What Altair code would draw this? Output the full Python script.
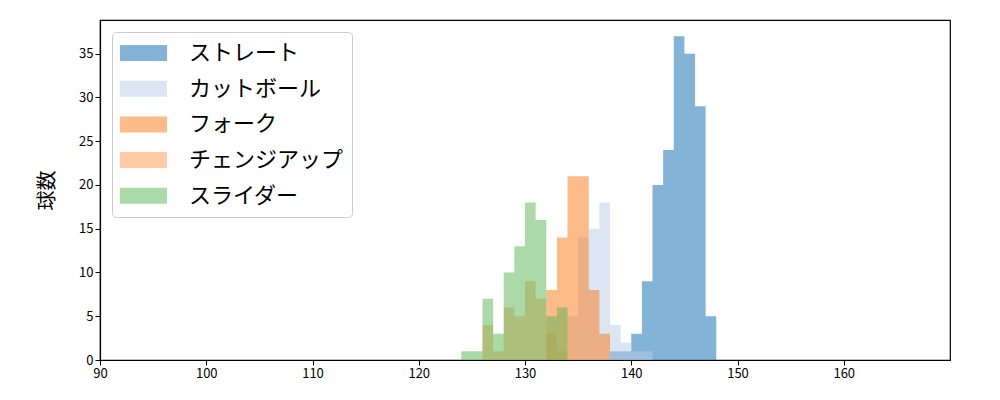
import altair as alt
import pandas as pd

# pitch types, in drawing order
pitch_types = ["ストレート", "カットボール", "フォーク", "チェンジアップ", "スライダー"]
pitch_colors = ["#0767af", "#b9cde5", "#fb7713", "#fd974b", "#59b351"]

# 1 km/h bins: left edges and pitch counts
straight_bins = [138, 139, 140, 141, 142, 143, 144, 145, 146, 147]
straight_counts = [1, 1, 3, 9, 20, 24, 37, 35, 29, 5]
cutball_bins = [134, 135, 136, 137, 138, 139, 140, 141]
cutball_counts = [5, 14, 15, 18, 4, 2, 1, 1]
fork_bins = [132, 133, 134, 135, 136, 137]
fork_counts = [8, 14, 21, 21, 8, 3]
changeup_bins = [126, 127, 128, 129, 130, 131, 132, 133]
changeup_counts = [4, 1, 6, 5, 9, 7, 3, 1]
slider_bins = [124, 125, 126, 127, 128, 129, 130, 131, 132, 133]
slider_counts = [1, 1, 7, 3, 10, 13, 18, 16, 5, 6]

x_ticks = [90, 100, 110, 120, 130, 140, 150, 160]
y_ticks = [0, 5, 10, 15, 20, 25, 30, 35]

series = [
    (straight_bins, straight_counts),
    (cutball_bins, cutball_counts),
    (fork_bins, fork_counts),
    (changeup_bins, changeup_counts),
    (slider_bins, slider_counts),
]

font = "Noto Sans CJK JP"

x_enc = alt.X(
    "speed:Q",
    title=None,
    scale=alt.Scale(domain=[90, 170], nice=False, zero=False),
    axis=alt.Axis(values=x_ticks, grid=False, labelFlush=False),
)
y_enc = alt.Y(
    "count:Q",
    title="球数",
    stack=None,
    scale=alt.Scale(domain=[0, 38.85], nice=False),
    axis=alt.Axis(
        values=y_ticks,
        grid=False,
        labelFlush=False,
        titleFontSize=20,
        titleFontWeight="normal",
        titleX=-53,
        titleY=170,
        titleAlign="center",
        titleBaseline="middle",
    ),
)
color_enc = alt.Color(
    "球種:N",
    scale=alt.Scale(domain=pitch_types, range=pitch_colors),
    legend=alt.Legend(
        title=None,
        orient="none",
        legendX=12,
        legendY=12,
        symbolType="M-1,-0.34L1,-0.34L1,0.34L-1,0.34Z",
        symbolSize=2209,
        symbolOpacity=0.5,
        symbolStrokeWidth=0,
        labelFontSize=22,
        labelFont=font,
        labelColor="black",
        labelOffset=22,
        clipHeight=26,
        rowPadding=9.7,
        padding=8,
        strokeColor="#cccccc",
        fillColor="white",
        cornerRadius=4,
    ),
)

# one step-shaped area per pitch type, so adjacent bins show no seams
layers = []
for name, (bins, counts) in zip(pitch_types, series):
    edges = bins + [bins[-1] + 1]
    heights = counts + [counts[-1]]
    part = pd.DataFrame({"球種": name, "speed": edges, "count": heights})
    layers.append(
        alt.Chart(part)
        .mark_area(opacity=0.5, interpolate="step-after")
        .encode(x=x_enc, y=y_enc, color=color_enc)
    )

chart = alt.layer(*layers).properties(
    width=850,
    height=340,
    autosize=alt.AutoSizeParams(type="none"),
    padding={"left": 92, "top": 12, "right": 42, "bottom": 32},
).configure_view(
    stroke="black", strokeWidth=1.2
).configure_axis(
    domainColor="black",
    domainWidth=1.2,
    tickColor="black",
    tickSize=5,
    labelColor="black",
    labelFontSize=13,
    labelFont=font,
    titleFont=font,
    titleColor="black",
)

chart.save("out.html", embed_options={"renderer": "svg", "actions": False})
